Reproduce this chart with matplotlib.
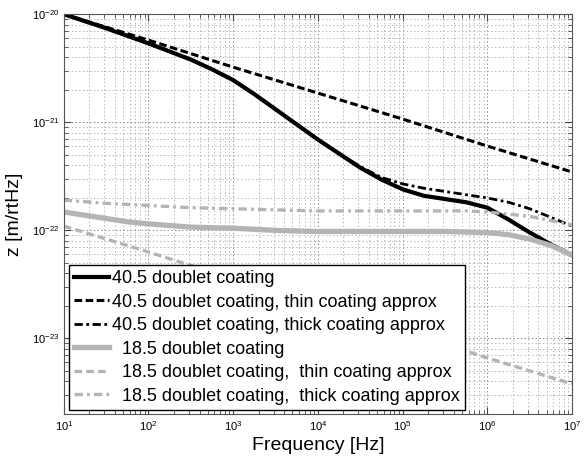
import numpy as np
import matplotlib
matplotlib.use("Agg")
import matplotlib.pyplot as plt

plt.rcParams['font.family'] = ['Liberation Sans', 'DejaVu Sans']
plt.rcParams['mathtext.default'] = 'regular'
plt.rcParams['lines.scale_dashes'] = False

# values, as log10(frequency) and log10(z)
lf_405 = [1.0, 1.5, 2.0, 2.5, 2.75, 3.0, 3.25, 3.5, 3.75, 4.0, 4.25, 4.5, 4.75, 5.0, 5.25, 5.5,
          5.75, 6.0, 6.25, 6.5, 6.75, 7.0]
lz_405 = [-20.0, -20.13, -20.27, -20.42, -20.51, -20.61, -20.74, -20.88, -21.02, -21.16, -21.29,
          -21.42, -21.53, -21.62, -21.68, -21.71, -21.74, -21.79, -21.90, -22.02, -22.13, -22.23]

lf_405_thin = [1.0, 2.0, 3.0, 4.0, 5.0, 6.0, 7.0]
lz_405_thin = [-20.0, -20.24, -20.49, -20.73, -20.97, -21.22, -21.46]

lf_405_thick = [1.0, 1.5, 2.0, 2.5, 2.75, 3.0, 3.25, 3.5, 3.75, 4.0, 4.25, 4.5, 4.75, 5.0, 5.25,
                5.5, 5.75, 6.0, 6.25, 6.5, 6.75, 7.0]
lz_405_thick = [-20.0, -20.13, -20.27, -20.42, -20.51, -20.61, -20.74, -20.88, -21.02, -21.16,
                -21.29, -21.41, -21.51, -21.57, -21.61, -21.64, -21.67, -21.70, -21.74, -21.80,
                -21.88, -21.96]

lf_185 = [1.0, 1.25, 1.5, 1.75, 2.0, 2.5, 3.0, 3.5, 4.0, 5.0, 5.5, 6.0, 6.25, 6.5, 6.75, 7.0]
lz_185 = [-21.83, -21.86, -21.89, -21.92, -21.94, -21.97, -21.98, -22.00, -22.01, -22.01, -22.01,
          -22.02, -22.04, -22.08, -22.14, -22.23]

lf_185_thin = [1.0, 2.0, 3.0, 4.0, 5.0, 6.0, 7.0]
lz_185_thin = [-21.96, -22.20, -22.45, -22.69, -22.93, -23.18, -23.42]

lf_185_thick = [1.0, 1.5, 2.0, 2.5, 3.0, 3.5, 4.0, 5.0, 5.75, 6.0, 6.25, 6.5, 6.75, 7.0]
lz_185_thick = [-21.72, -21.75, -21.77, -21.79, -21.80, -21.81, -21.82, -21.82, -21.82, -21.83,
                -21.85, -21.87, -21.91, -21.95]

labels = ['40.5 doublet coating',
          '40.5 doublet coating, thin coating approx',
          '40.5 doublet coating, thick coating approx',
          '  18.5 doublet coating',
          '  18.5 doublet coating,  thin coating approx',
          '  18.5 doublet coating,  thick coating approx']

gray = '#b4b4b4'

fig = plt.figure(figsize=(5.85, 4.58), dpi=100)
ax = fig.add_axes([0.109, 0.096, 0.869, 0.873])

def p(lf, lz):
    return 10.0 ** np.array(lf), 10.0 ** np.array(lz)

ax.plot(*p(lf_405, lz_405), color='k', lw=3.0, label=labels[0])
ax.plot(*p(lf_405_thin, lz_405_thin), color='k', lw=2.2, dashes=(5.5, 2.5), label=labels[1])
ax.plot(*p(lf_405_thick, lz_405_thick), color='k', lw=2.0, dashes=(6, 2.5, 2, 2.5), label=labels[2])
ax.plot(*p(lf_185, lz_185), color=gray, lw=3.8, label=labels[3])
ax.plot(*p(lf_185_thin, lz_185_thin), color=gray, lw=2.4, dashes=(5.5, 3), label=labels[4])
ax.plot(*p(lf_185_thick, lz_185_thick), color=gray, lw=2.4, dashes=(6, 3, 2, 3), label=labels[5])

ax.set_xscale('log')
ax.set_yscale('log')
ax.set_xlim(1e1, 1e7)
ax.set_ylim(2e-24, 1e-20)

ax.grid(True, which='major', ls=':', color='#888888', lw=0.7)
ax.grid(True, which='minor', ls=':', color='#aaaaaa', lw=0.6)
ax.tick_params(which='both', direction='in', top=True, right=True, labelsize=8, colors='#444444',
               labelcolor='k')
ax.tick_params(which='major', length=5)
ax.tick_params(which='minor', length=3)
ax.yaxis.set_minor_formatter(plt.NullFormatter())
for s in ax.spines.values():
    s.set_color('#555555')

ax.set_xlabel('Frequency [Hz]', fontsize=14, labelpad=3)
ax.set_ylabel('z [m/rtHz]', fontsize=14, labelpad=6)

leg = ax.legend(loc='lower left', bbox_to_anchor=(0.01, 0.01), borderaxespad=0, fontsize=13,
                fancybox=False, framealpha=1, edgecolor='k', handlelength=1.9, handletextpad=0.2,
                labelspacing=0.36, borderpad=0.3)
leg.get_frame().set_linewidth(1.0)

fig.savefig('out.png', dpi=100)
